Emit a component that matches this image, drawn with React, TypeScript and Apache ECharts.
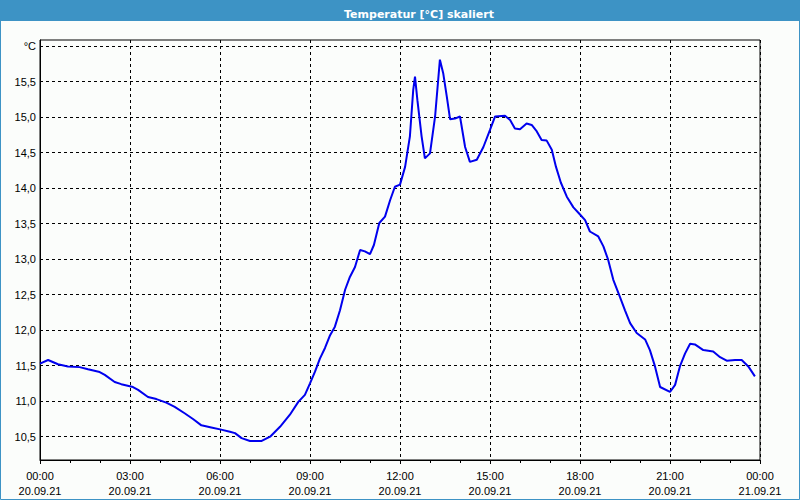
import React, { useEffect, useRef } from "react";
import * as echarts from "echarts";

// Time in hours since 20.09.21 00:00
const hours = [
  0.0, 0.27, 0.6, 0.93, 1.32, 1.6, 1.99, 2.16, 2.49, 2.71, 3.1, 3.27, 3.6, 3.88, 4.21, 4.49,
  4.82, 5.1, 5.38, 5.71, 6.04, 6.33, 6.5, 6.72, 7.0, 7.39, 7.67, 8.0, 8.33, 8.61, 8.83, 9.0,
  9.17, 9.33, 9.5, 9.67, 9.83, 10.0, 10.17, 10.33, 10.5, 10.67, 10.83, 11.0, 11.13, 11.31,
  11.5, 11.67, 11.83, 12.0, 12.17, 12.33, 12.44, 12.5, 12.58, 12.72, 12.83, 13.0, 13.17,
  13.33, 13.44, 13.56, 13.67, 13.83, 14.0, 14.17, 14.33, 14.56, 14.78, 15.0, 15.17, 15.5,
  15.67, 15.83, 16.0, 16.22, 16.39, 16.56, 16.72, 16.89, 17.06, 17.2, 17.36, 17.56, 17.78,
  18.0, 18.17, 18.33, 18.61, 18.78, 18.94, 19.11, 19.33, 19.5, 19.67, 19.89, 20.17, 20.33,
  20.5, 20.67, 21.0, 21.17, 21.33, 21.5, 21.67, 21.83, 22.11, 22.44, 22.67, 22.89, 23.17,
  23.39, 23.61, 23.83,
];

const temperatures = [
  11.53, 11.58, 11.52, 11.49, 11.48, 11.45, 11.41, 11.37, 11.27, 11.24, 11.2, 11.16, 11.06,
  11.03, 10.98, 10.92, 10.83, 10.75, 10.66, 10.63, 10.6, 10.57, 10.55, 10.48, 10.44, 10.44,
  10.5, 10.64, 10.81, 10.99, 11.09, 11.25, 11.42, 11.6, 11.75, 11.93, 12.05, 12.28, 12.57,
  12.75, 12.89, 13.13, 13.11, 13.07, 13.2, 13.51, 13.6, 13.83, 14.02, 14.05, 14.3, 14.73,
  15.38, 15.57, 15.24, 14.73, 14.42, 14.49, 15.01, 15.81, 15.62, 15.29, 14.97, 14.98, 15.01,
  14.58, 14.37, 14.4, 14.58, 14.82, 15.01, 15.02, 14.96, 14.84, 14.83, 14.91, 14.89, 14.8,
  14.68, 14.67, 14.54, 14.3, 14.08, 13.88, 13.73, 13.63, 13.55, 13.39, 13.32, 13.18, 12.99,
  12.71, 12.47, 12.28, 12.1, 11.96, 11.87, 11.72, 11.49, 11.2, 11.13, 11.23, 11.49, 11.67,
  11.81, 11.8, 11.72, 11.7, 11.62, 11.57, 11.58, 11.58, 11.49, 11.35,
];

const yTickValues = [10.5, 11.0, 11.5, 12.0, 12.5, 13.0, 13.5, 14.0, 14.5, 15.0, 15.5, 16.0];
const yMin = 10.172;
const yMax = 16.087;
const unitLabel = "°C";
const titleText = "Temperatur [°C] skaliert";
const dateStart = "20.09.21";
const dateEnd = "21.09.21";

const FONT = "'Liberation Sans', Arial, sans-serif";
const TITLE_FONT = "'DejaVu Sans', Verdana, sans-serif";
const FRAME_BLUE = "#3d93c5";

export default function App() {
  const ref = useRef<HTMLDivElement>(null);

  useEffect(() => {
    if (!ref.current) return;
    const chart = echarts.init(ref.current, null, { renderer: "svg" });
    const data = hours.map((h, i) => [h, temperatures[i]]);
    const pad = (n: number) => (n < 10 ? "0" + n : "" + n);

    chart.setOption({
      animation: false,
      backgroundColor: "#fbfdfb",
      textStyle: { fontFamily: FONT },
      title: {
        text: titleText,
        left: 414,
        top: 4,
        textAlign: "center",
        textStyle: { color: "#ffffff", fontSize: 11, fontWeight: "bold", fontFamily: TITLE_FONT },
      },
      graphic: [
        {
          type: "rect",
          z: -1,
          shape: { x: 0, y: 0, width: 800, height: 21 },
          style: { fill: FRAME_BLUE },
          silent: true,
        },
        {
          type: "rect",
          z: 100,
          shape: { x: 0.5, y: 0.5, width: 799, height: 499 },
          style: { fill: "none", stroke: FRAME_BLUE, lineWidth: 1 },
          silent: true,
        },
      ],
      grid: {
        left: 40,
        right: 40,
        top: 40,
        bottom: 40,
        show: true,
        borderColor: "#000",
        borderWidth: 1,
        backgroundColor: "transparent",
      },
      xAxis: {
        type: "value",
        min: 0,
        max: 24,
        interval: 3,
        axisLine: { show: true, lineStyle: { color: "#000", width: 1 } },
        axisTick: { show: true, length: 4, lineStyle: { color: "#000" } },
        minorTick: { show: true, splitNumber: 3, length: 3, lineStyle: { color: "#000" } },
        splitLine: { show: true, lineStyle: { color: "#000", type: [3, 3], width: 1 } },
        axisLabel: {
          color: "#000",
          fontSize: 11,
          fontFamily: FONT,
          lineHeight: 15,
          margin: 8,
          formatter: (v: number) => {
            const hh = Math.round(v) % 24;
            const date = v >= 24 ? dateEnd : dateStart;
            return `${pad(hh)}:00\n${date}`;
          },
        },
      },
      yAxis: {
        type: "value",
        min: yMin,
        max: yMax,
        axisLine: { show: true, lineStyle: { color: "#000", width: 1 } },
        axisTick: { show: false, customValues: yTickValues },
        splitLine: { show: true, lineStyle: { color: "#000", type: [3, 3], width: 1 } },
        axisLabel: {
          color: "#000",
          fontSize: 11,
          fontFamily: FONT,
          margin: 4,
          customValues: yTickValues,
          formatter: (v: number) =>
            v >= 15.99 ? unitLabel : v.toFixed(1).replace(".", ","),
        },
      },
      series: [
        {
          type: "line",
          data,
          showSymbol: false,
          symbol: "none",
          lineStyle: { color: "#0000ee", width: 2 },
          z: 5,
        },
      ],
    });

    return () => chart.dispose();
  }, []);

  return (
    <div
      ref={ref}
      style={{ position: "fixed", left: 0, top: 0, width: 800, height: 500 }}
    />
  );
}
